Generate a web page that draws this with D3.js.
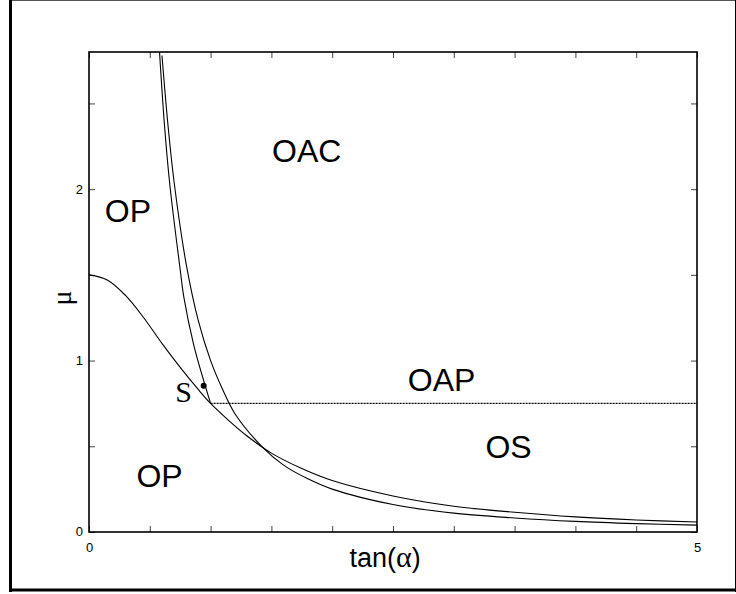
<!DOCTYPE html>
<html>
<head>
<meta charset="utf-8">
<script src="https://cdn.jsdelivr.net/npm/d3@7"></script>
<style>
  body { margin: 0; background: #fff; }
  svg { display: block; }
</style>
</head>
<body>
<svg width="736" height="594"></svg>
<script>
// tick values (labels only on some of them)
var xTicks = [0, 0.5, 1, 1.5, 2, 2.5, 3, 3.5, 4, 4.5, 5];
var xTickLabels = [0, 5];
var yTicks = [0, 0.5, 1, 1.5, 2, 2.5];
var yTickLabels = [0, 1, 2];

// bell shaped boundary starting at mu = 1.5
var bellX  = [0, 0.15, 0.3, 0.45, 0.6, 0.75, 0.9, 1, 1.15, 1.3, 1.5, 1.75, 2, 2.5, 3, 3.5, 4, 4.5, 5];
var bellMu = [1.5, 1.47, 1.38, 1.25, 1.1, 0.96, 0.83, 0.75, 0.65, 0.56, 0.46, 0.37, 0.3, 0.21, 0.15, 0.115, 0.088, 0.07, 0.058];

// inner steep boundary, ends on the bell curve
var innerX  = [0.58, 0.62, 0.664, 0.75, 0.78, 0.86, 0.94, 1.0];
var innerMu = [2.8, 2.38, 2.03, 1.53, 1.37, 1.095, 0.89, 0.75];

// outer steep boundary
var outerX  = [0.6, 0.65, 0.7, 0.8, 0.9, 1, 1.1, 1.2, 1.42, 1.6, 1.8, 2, 2.5, 3, 3.5, 4, 4.5, 5];
var outerMu = [2.78, 2.37, 2.04, 1.56, 1.23, 1.0, 0.83, 0.69, 0.5, 0.39, 0.31, 0.25, 0.16, 0.11, 0.082, 0.062, 0.049, 0.04];

// horizontal boundary OAP / OS
var flatX  = [1, 5];
var flatMu = [0.75, 0.75];

// point S
var sPoint = {x: 0.943, mu: 0.853};

// region labels
var regions = [
    {name: 'OAC', x: 1.79, mu: 2.16},
    {name: 'OP',  x: 0.32, mu: 1.81},
    {name: 'OAP', x: 2.9,  mu: 0.82},
    {name: 'OS',  x: 3.45, mu: 0.43},
    {name: 'OP',  x: 0.58, mu: 0.26}
];

var svg = d3.select('svg');

// outer frame
svg.append('line').attr('x1', 10).attr('x2', 736).attr('y1', 0.5).attr('y2', 0.5)
    .attr('stroke', '#555').attr('stroke-width', 1);
svg.append('line').attr('x1', 10.5).attr('x2', 10.5).attr('y1', 0).attr('y2', 592)
    .attr('stroke', '#000').attr('stroke-width', 3);
svg.append('line').attr('x1', 9).attr('x2', 736).attr('y1', 590).attr('y2', 590)
    .attr('stroke', '#000').attr('stroke-width', 3);
svg.append('line').attr('x1', 735.5).attr('x2', 735.5).attr('y1', 0).attr('y2', 592)
    .attr('stroke', '#000').attr('stroke-width', 1);

var padding = {t: 52, r: 39, b: 62, l: 89};
var chartWidth = 736 - padding.l - padding.r;
var chartHeight = 594 - padding.t - padding.b;

var chartG = svg.append('g')
    .attr('transform', 'translate(' + [padding.l, padding.t] + ')');

var xScale = d3.scaleLinear().domain([0, 5]).range([0, chartWidth]);
var yScale = d3.scaleLinear().domain([0, 2.8]).range([chartHeight, 0]);

function fmt(list) {
    return function(d) { return list.indexOf(d) >= 0 ? d : ''; };
}

var axes = [
    chartG.append('g').attr('transform', 'translate(0,' + chartHeight + ')')
        .call(d3.axisBottom(xScale).tickValues(xTicks).tickSize(-6).tickPadding(8).tickFormat(fmt(xTickLabels))),
    chartG.append('g')
        .call(d3.axisTop(xScale).tickValues(xTicks).tickSize(-6).tickFormat('')),
    chartG.append('g')
        .call(d3.axisLeft(yScale).tickValues(yTicks).tickSize(-6).tickPadding(6).tickFormat(fmt(yTickLabels))),
    chartG.append('g').attr('transform', 'translate(' + chartWidth + ',0)')
        .call(d3.axisRight(yScale).tickValues(yTicks).tickSize(-6).tickFormat(''))
];
axes.forEach(function(a) {
    a.select('.domain').remove();
    a.selectAll('.tick line').attr('stroke', '#444').attr('stroke-width', 1);
    a.selectAll('.tick text').attr('font-family', 'Liberation Sans, Arial, sans-serif')
        .attr('font-size', 13).attr('fill', '#000');
});
axes[0].selectAll('.tick text').attr('dy', '0.9em');
axes[2].selectAll('.tick text').attr('dy', '0.3em');

// plot box
chartG.append('rect')
    .attr('x', 0).attr('y', 0).attr('width', chartWidth).attr('height', chartHeight)
    .attr('fill', 'none').attr('stroke', '#000').attr('stroke-width', 1.6);

svg.append('clipPath').attr('id', 'plotClip')
    .append('rect').attr('width', chartWidth).attr('height', chartHeight);

var line = d3.line()
    .x(d => xScale(d[0]))
    .y(d => yScale(d[1]))
    .curve(d3.curveCatmullRom.alpha(0.5));

function zipPts(xs, ys) { return xs.map((v, i) => [v, ys[i]]); }

var curvesG = chartG.append('g').attr('clip-path', 'url(#plotClip)');

[[bellX, bellMu], [innerX, innerMu], [outerX, outerMu]].forEach(function(c) {
    curvesG.append('path')
        .datum(zipPts(c[0], c[1]))
        .attr('d', line)
        .attr('fill', 'none')
        .attr('stroke', '#000')
        .attr('stroke-width', 1.1);
});

curvesG.append('path')
    .datum(zipPts(flatX, flatMu))
    .attr('d', d3.line().x(d => xScale(d[0])).y(d => yScale(d[1])))
    .attr('fill', 'none')
    .attr('stroke', '#000')
    .attr('stroke-width', 1.2)
    .attr('stroke-dasharray', '2,1');

chartG.append('circle')
    .attr('cx', xScale(sPoint.x)).attr('cy', yScale(sPoint.mu))
    .attr('r', 3).attr('fill', '#000');

chartG.append('text')
    .attr('x', xScale(sPoint.x) - 20).attr('y', yScale(sPoint.mu) + 16)
    .attr('text-anchor', 'middle')
    .attr('font-family', 'Liberation Serif, Times New Roman, serif')
    .attr('font-size', 30)
    .text('S');

chartG.selectAll('.region')
    .data(regions)
    .enter()
    .append('text')
    .attr('class', 'region')
    .attr('x', d => xScale(d.x))
    .attr('y', d => yScale(d.mu))
    .attr('text-anchor', 'middle')
    .attr('font-family', 'Liberation Sans, Arial, sans-serif')
    .attr('font-size', 32)
    .text(d => d.name);

// axis titles
svg.append('text')
    .attr('x', 385).attr('y', 567)
    .attr('text-anchor', 'middle')
    .attr('font-family', 'Liberation Sans, Arial, sans-serif')
    .attr('font-size', 27)
    .html('tan(<tspan font-family="Liberation Serif, serif" font-size="30">α</tspan>)');

svg.append('text')
    .attr('transform', 'translate(71,298) rotate(-90)')
    .attr('text-anchor', 'middle')
    .attr('font-family', 'Liberation Serif, Times New Roman, serif')
    .attr('font-size', 28)
    .text('μ');
</script>
</body>
</html>
